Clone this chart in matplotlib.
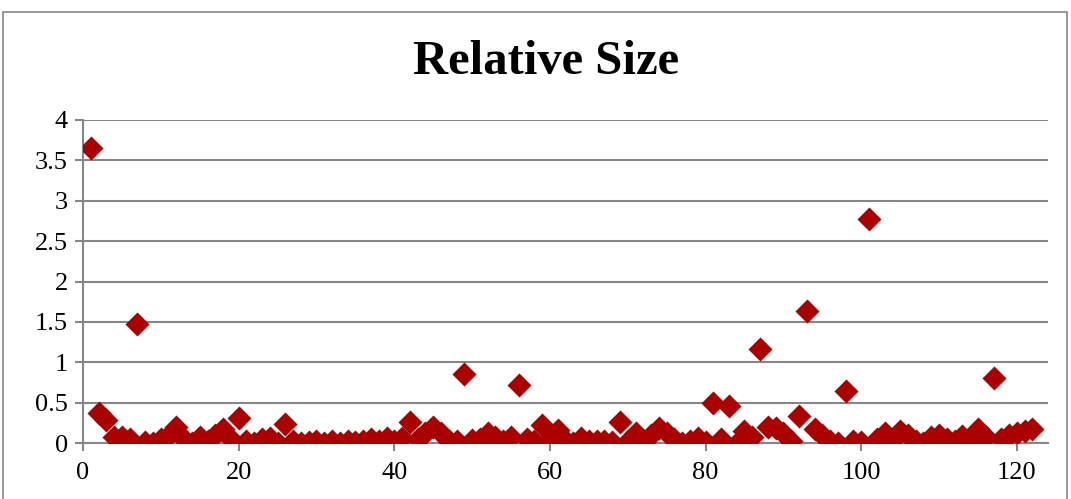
import numpy as np
import matplotlib
matplotlib.use("Agg")
import matplotlib.pyplot as plt
from matplotlib.patches import Rectangle

# relative size per item (item number 1..122)
item = np.arange(1, 123)
rel_size = [
    3.65, 0.37, 0.28, 0.07, 0.08, 0.05, 1.47, 0.01, 0.00, 0.05,
    0.10, 0.20, 0.05, 0.00, 0.08, 0.03, 0.10, 0.17, 0.05, 0.31,
    0.02, 0.00, 0.05, 0.06, 0.00, 0.23, 0.02, 0.00, 0.01, 0.02,
    0.00, 0.02, 0.00, 0.02, 0.01, 0.03, 0.05, 0.02, 0.06, 0.03,
    0.06, 0.26, 0.05, 0.12, 0.20, 0.12, 0.03, 0.02, 0.86, 0.04,
    0.05, 0.13, 0.08, 0.03, 0.07, 0.72, 0.05, 0.02, 0.22, 0.05,
    0.16, 0.02, 0.00, 0.06, 0.02, 0.03, 0.02, 0.01, 0.26, 0.02,
    0.12, 0.03, 0.10, 0.18, 0.12, 0.05, 0.00, 0.03, 0.06, 0.01,
    0.49, 0.05, 0.46, 0.00, 0.15, 0.08, 1.16, 0.20, 0.18, 0.12,
    0.03, 0.33, 1.63, 0.17, 0.10, 0.03, 0.00, 0.65, 0.03, 0.01,
    2.78, 0.05, 0.12, 0.02, 0.15, 0.10, 0.02, 0.00, 0.07, 0.10,
    0.05, 0.02, 0.09, 0.03, 0.17, 0.08, 0.80, 0.05, 0.10, 0.13,
    0.15, 0.17,
]
x_ticks = [0, 20, 40, 60, 80, 100, 120]
y_ticks = [0, 0.5, 1, 1.5, 2, 2.5, 3, 3.5, 4]

plt.rcParams["font.family"] = ["Liberation Serif", "DejaVu Serif"]

fig = plt.figure(figsize=(10.71, 4.99), dpi=100)
ax = fig.add_axes([83 / 1071, 56 / 499, 965 / 1071, 323 / 499])

# chart frame
fig.patches.append(Rectangle((3 / 1071, -0.1), 1064 / 1071, 1.1 - 12 / 499,
                             transform=fig.transFigure, fill=False,
                             edgecolor="#868686", linewidth=1.2))

ax.scatter(item, rel_size, marker="D", s=150, color="#AA0000",
           linewidths=0, zorder=3)

ax.set_xlim(0, 124)
ax.set_ylim(0, 4)
ax.set_xticks(x_ticks)
ax.set_yticks(y_ticks)
ax.set_yticklabels([f"{v:g}" for v in y_ticks])
ax.grid(axis="y", color="#868686", linewidth=1.5)
ax.set_axisbelow(True)

for side in ("top", "right"):
    ax.spines[side].set_visible(False)
for side in ("left", "bottom"):
    ax.spines[side].set_color("#868686")
    ax.spines[side].set_linewidth(1.5)
ax.tick_params(axis="both", colors="#868686", labelcolor="black",
               labelsize=19, length=6, width=1.5, direction="out")
ax.tick_params(axis="y", pad=5)
ax.tick_params(axis="x", pad=8)

fig.text(546 / 1071, 1 - 62 / 499, "Relative Size", ha="center", va="center",
         fontsize=35, fontweight="bold")

fig.savefig("out.png", dpi=100)
